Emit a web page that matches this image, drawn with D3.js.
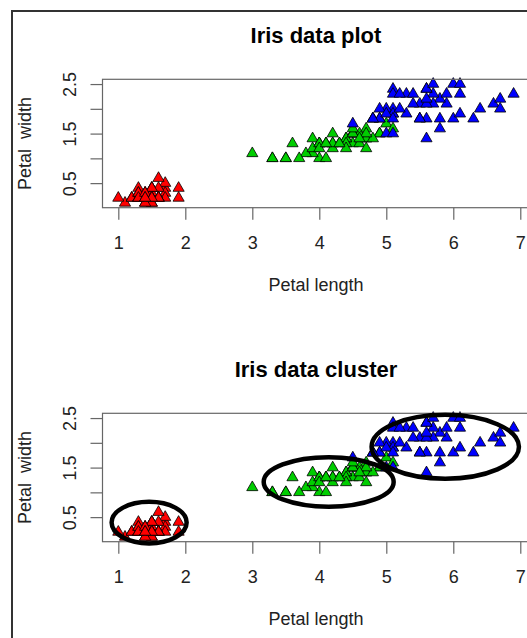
<!DOCTYPE html>
<html>
<head>
<meta charset="utf-8">
<script src="https://cdn.jsdelivr.net/npm/d3@7"></script>
<style>
  body { margin: 0; background: #fff; }
  svg { display: block; font-family: "Liberation Sans", Arial, sans-serif; }
</style>
</head>
<body>
<svg width="527" height="638"></svg>
<script>
// iris petal measurements, in data order (setosa, versicolor, virginica)
const petalLength = [
  1.4,1.4,1.3,1.5,1.4,1.7,1.4,1.5,1.4,1.5, 1.5,1.6,1.4,1.1,1.2,1.5,1.3,1.4,1.7,1.5,
  1.7,1.5,1.0,1.7,1.9,1.6,1.6,1.5,1.4,1.6, 1.6,1.5,1.5,1.4,1.5,1.2,1.3,1.4,1.3,1.5,
  1.3,1.3,1.3,1.6,1.9,1.4,1.6,1.4,1.5,1.4,
  4.7,4.5,4.9,4.0,4.6,4.5,4.7,3.3,4.6,3.9, 3.5,4.2,4.0,4.7,3.6,4.4,4.5,4.1,4.5,3.9,
  4.8,4.0,4.9,4.7,4.3,4.4,4.8,5.0,4.5,3.5, 3.8,3.7,3.9,5.1,4.5,4.5,4.7,4.4,4.1,4.0,
  4.4,4.6,4.0,3.3,4.2,4.2,4.2,4.3,3.0,4.1,
  6.0,5.1,5.9,5.6,5.8,6.6,4.5,6.3,5.8,6.1, 5.1,5.3,5.5,5.0,5.1,5.3,5.5,6.7,6.9,5.0,
  5.7,4.9,6.7,4.9,5.7,6.0,4.8,4.9,5.6,5.8, 6.1,6.4,5.6,5.1,5.6,6.1,5.6,5.5,4.8,5.4,
  5.6,5.1,5.1,5.9,5.7,5.2,5.0,5.2,5.4,5.1
];
const petalWidth = [
  0.2,0.2,0.2,0.2,0.2,0.4,0.3,0.2,0.2,0.1, 0.2,0.2,0.1,0.1,0.2,0.4,0.4,0.3,0.3,0.3,
  0.2,0.4,0.2,0.5,0.2,0.2,0.4,0.2,0.2,0.2, 0.2,0.4,0.1,0.2,0.2,0.2,0.2,0.1,0.2,0.2,
  0.3,0.3,0.2,0.6,0.4,0.3,0.2,0.2,0.2,0.2,
  1.4,1.5,1.5,1.3,1.5,1.3,1.6,1.0,1.3,1.4, 1.0,1.5,1.0,1.4,1.3,1.4,1.5,1.0,1.5,1.1,
  1.8,1.3,1.5,1.2,1.3,1.4,1.4,1.7,1.5,1.0, 1.1,1.0,1.2,1.6,1.5,1.6,1.5,1.3,1.3,1.3,
  1.2,1.4,1.2,1.0,1.3,1.2,1.3,1.3,1.1,1.3,
  2.5,1.9,2.1,1.8,2.2,2.1,1.7,1.8,1.8,2.5, 2.0,1.9,2.1,2.0,2.4,2.3,1.8,2.2,2.3,1.5,
  2.3,2.0,2.0,1.8,2.1,1.8,1.8,1.8,2.1,1.6, 1.9,2.0,2.2,1.5,1.4,2.3,2.4,1.8,1.8,2.1,
  2.4,2.3,1.9,2.3,2.5,2.3,1.9,2.0,2.3,1.8
];
const species = ["setosa", "versicolor", "virginica"];
const speciesCounts = [50, 50, 50];

// cluster ellipses (data units): centre and half-axes
const clusterX = [1.46, 4.14, 5.88];
const clusterY = [0.39, 1.21, 1.92];
const clusterRx = [0.56, 0.97, 1.10];
const clusterRy = [0.42, 0.50, 0.645];

const xTicks = [1, 2, 3, 4, 5, 6, 7];
const yTicks = [0.5, 1, 1.5, 2, 2.5];
const yTickLabels = ["0.5", "", "1.5", "", "2.5"];
const panelTitles = ["Iris data plot", "Iris data cluster"];

const speciesColors = ["#ff0000", "#00cd00", "#0000ff"];

const svg = d3.select("svg");

// one species index per row
const speciesOf = species.flatMap((s, i) => d3.range(speciesCounts[i]).map(() => i));
const rows = petalLength.map((l, i) => ({ l, w: petalWidth[i], s: speciesOf[i] }));

const plotLeft = 102.5, plotRight = 529.4, plotH = 128.4;
const panelTops = [79.3, 413.3];

const x = d3.scaleLinear()
  .domain([0.764, 7.136])
  .range([plotLeft, plotRight]);
const y = d3.scaleLinear()
  .domain([0.004, 2.596])
  .range([plotH, 0]);

const tri = d3.symbol().type(d3.symbolTriangle).size(54);
const axisColor = "#666";

// outer frame (only left and top edges fall inside the picture)
svg.append("path")
  .attr("d", "M12,640V11H530")
  .attr("fill", "none")
  .attr("stroke", "#333")
  .attr("stroke-width", 2);

panelTitles.forEach((title, p) => {
  const g = svg.append("g").attr("transform", "translate(0," + panelTops[p] + ")");
  const cx = (plotLeft + plotRight) / 2;

  g.append("text")
    .attr("x", cx)
    .attr("y", -36.3)
    .attr("text-anchor", "middle")
    .style("font-size", "22px")
    .style("font-weight", "bold")
    .text(title);

  // points
  g.append("g").selectAll("path")
    .data(rows)
    .join("path")
    .attr("d", tri)
    .attr("transform", d => "translate(" + x(d.l) + "," + y(d.w) + ")")
    .attr("fill", d => speciesColors[d.s])
    .attr("stroke", "#000")
    .attr("stroke-width", 0.8);

  // box
  g.append("rect")
    .attr("x", plotLeft)
    .attr("y", 0)
    .attr("width", plotRight - plotLeft)
    .attr("height", plotH)
    .attr("fill", "none")
    .attr("stroke", axisColor)
    .attr("stroke-width", 1.2);

  // x axis
  const xa = g.append("g")
    .attr("transform", "translate(0," + plotH + ")")
    .call(d3.axisBottom(x).tickValues(xTicks).tickSize(12).tickPadding(16.5).tickFormat(d3.format("d")));
  xa.select(".domain").remove();
  xa.selectAll("line").attr("stroke", axisColor).attr("stroke-width", 1.2);
  xa.selectAll("text")
    .attr("fill", "#222")
    .style("font-size", "18px")
    .style("font-family", "'Liberation Sans', Arial, sans-serif");

  // y axis, labels rotated like R's default
  const ya = g.append("g")
    .attr("transform", "translate(" + plotLeft + ",0)")
    .call(d3.axisLeft(y).tickValues(yTicks).tickSize(12).tickFormat((d, i) => yTickLabels[i]));
  ya.select(".domain").remove();
  ya.selectAll("line").attr("stroke", axisColor).attr("stroke-width", 1.2);
  ya.selectAll("text")
    .attr("x", 0)
    .attr("dy", 0)
    .attr("transform", "translate(-26.5,0) rotate(-90)")
    .attr("text-anchor", "middle")
    .attr("fill", "#222")
    .style("font-size", "18px")
    .style("font-family", "'Liberation Sans', Arial, sans-serif");

  // axis titles
  g.append("text")
    .attr("x", cx)
    .attr("y", 212.2)
    .attr("text-anchor", "middle")
    .attr("fill", "#222")
    .style("font-size", "18px")
    .text("Petal length");

  g.append("text")
    .attr("transform", "translate(30.5," + (plotH / 2) + ") rotate(-90)")
    .attr("text-anchor", "middle")
    .attr("fill", "#222")
    .style("font-size", "18px")
    .style("white-space", "pre")
    .text("Petal  width");

  if (p === 1) {
    g.append("g").selectAll("ellipse")
      .data(clusterX)
      .join("ellipse")
      .attr("cx", d => x(d))
      .attr("cy", (d, i) => y(clusterY[i]))
      .attr("rx", (d, i) => x(d + clusterRx[i]) - x(d))
      .attr("ry", (d, i) => y(clusterY[i] - clusterRy[i]) - y(clusterY[i]))
      .attr("fill", "none")
      .attr("stroke", "#000")
      .attr("stroke-width", 4.5);
  }
});
</script>
</body>
</html>
